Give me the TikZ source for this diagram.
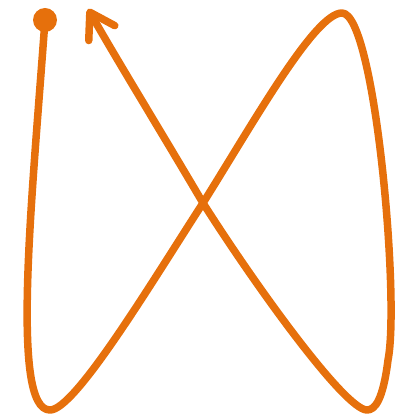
\documentclass[tikz,border=0pt]{standalone}
\usetikzlibrary{arrows.meta}

\definecolor{loopcol}{RGB}{230,112,12}

\tikzset{
  loopline/.style={loopcol, line width=7.5pt, line cap=round, line join=round},
  looptip/.style={-{Straight Barb[length=24pt, width=30pt, line cap=round, line join=round]}}
}

\begin{document}
\begin{tikzpicture}[x=1pt, y=-1pt]
  \useasboundingbox (0,0) rectangle (395,419);

  % Key points of the loop
  \coordinate (start)  at (45,20);
  \coordinate (lowL)   at (50,410);
  \coordinate (centre) at (203,203);
  \coordinate (topR)   at (342,13);
  \coordinate (lowR)   at (367,410);
  \coordinate (tip)    at (88,9);

  % The curve
  \draw[loopline, looptip]
    (start) .. controls (32,200) and (10,410) .. (lowL)
    .. controls (75,410) and (150,285) .. (centre)
    .. controls (255,120) and (315,13) .. (topR)
    .. controls (375,13) and (400,300) .. (388,360)
    .. controls (383,400) and (375,410) .. (lowR)
    .. controls (345,410) and (255,285) .. (centre)
    .. controls (160,130) and (120,65) .. (tip);

  % Start dot
  \fill[loopcol] (start) circle (12pt);
\end{tikzpicture}
\end{document}
